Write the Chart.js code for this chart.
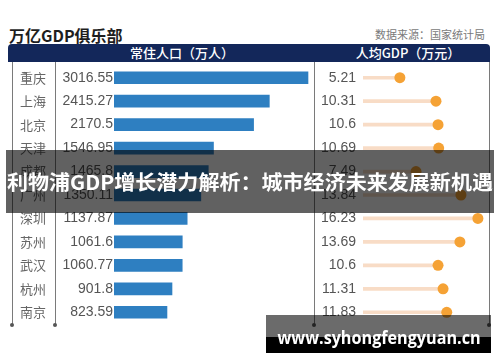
<!DOCTYPE html>
<html>
<head>
<meta charset="utf-8">
<script src="https://cdn.jsdelivr.net/npm/chart.js@4.4.1/dist/chart.umd.min.js"></script>
<style>
  body { margin: 0; width: 500px; height: 362px; background: #fff; position: relative; overflow: hidden;
         font-family: "Noto Sans CJK SC", "Noto Sans", sans-serif; }
  .abs { position: absolute; }
  .vline { position: absolute; top: 62px; height: 263px; width: 1px; background: #7a7a7a; }
  .dot { position: absolute; top: 323px; width: 4px; height: 4px; border-radius: 2px; background: #555; }
  .fit { display: inline-block; white-space: nowrap; transform-origin: center center; }
</style>
</head>
<body>
<div class="abs" style="left:9px;top:23px;font-size:16px;font-weight:bold;color:#1e1e1e">万亿GDP俱乐部</div>
<div class="abs" style="left:375px;top:26px;font-size:11px;color:#7a7a7a">数据来源：国家统计局</div>

<div class="abs" style="left:8px;top:44px;width:482px;height:18px;background:#13275a;border-radius:4px 4px 0 0"></div>
<div class="abs" style="left:110px;top:44px;width:144px;line-height:18px;text-align:center;font-size:13px;font-weight:500;color:#fff">常住人口（万人）</div>
<div class="abs" style="left:340px;top:44px;width:136px;line-height:18px;text-align:center;font-size:13px;font-weight:500;color:#fff">人均GDP（万元）</div>

<div class="vline" style="left:12px"></div>
<div class="vline" style="left:55px"></div>
<div class="vline" style="left:314px"></div>
<div class="vline" style="left:489px"></div>
<div class="dot" style="left:10px"></div>
<div class="dot" style="left:53px"></div>
<div class="dot" style="left:312px"></div>
<div class="dot" style="left:487px"></div>

<div class="abs" style="left:13px;top:66px"><canvas id="pop" width="301" height="258"></canvas></div>
<div class="abs" style="left:315px;top:66px"><canvas id="gdp" width="174" height="258"></canvas></div>

<div class="abs" style="left:6px;top:150px;width:488px;height:63px;background:rgba(0,0,0,0.62);text-align:center;line-height:63px">
  <span class="fit" id="banner" style="font-size:20px;font-weight:bold;color:#fff">利物浦GDP增长潜力解析：城市经济未来发展新机遇</span>
</div>

<div class="abs" style="left:266px;top:315px;width:225px;height:22px;background:rgba(0,0,0,0.58)"></div>
<div class="abs" style="left:266px;top:337px;width:225px;height:16px;background:#000"></div>
<div class="abs" style="left:266px;top:325px;width:225px;line-height:24px;text-align:center">
  <span class="fit" id="wm" style="font-family:'Open Sans',sans-serif;font-size:18px;font-weight:bold;color:#fff">www.syhongfengyuan.cn</span>
</div>

<script>
const cities = ["重庆", "上海", "北京", "天津", "成都", "广州", "深圳", "苏州", "武汉", "杭州", "南京"];
const population = [3016.55, 2415.27, 2170.5, 1546.95, 1465.8, 1350.11, 1137.87, 1061.6, 1060.77, 901.8, 823.59];
const gdpPerCapita = [5.21, 10.31, 10.6, 10.69, 7.49, 13.84, 16.23, 13.69, 10.6, 11.31, 11.83];

// stretch the overlay texts to the width they take in the picture
function fitWidth(id, w) {
  const el = document.getElementById(id);
  el.style.transform = "scaleX(" + (w / el.offsetWidth) + ")";
}
fitWidth("banner", 486);
fitWidth("wm", 203);

// city names, left column of the first panel
const cityNames = {
  id: "cityNames",
  afterDraw(chart) {
    const ctx = chart.ctx;
    const y = chart.scales.y;
    ctx.save();
    ctx.font = "13px 'Noto Sans CJK SC'";
    ctx.fillStyle = "#666";
    ctx.textAlign = "center";
    ctx.textBaseline = "middle";
    cities.forEach((c, i) => ctx.fillText(c, 20, y.getPixelForTick(i)));
    ctx.restore();
  }
};

// keep the category band exactly the canvas height (no label / point padding)
function fullHeight(s) {
  s.paddingTop = 0;
  s.paddingBottom = 0;
}

new Chart(document.getElementById("pop"), {
  type: "bar",
  data: {
    labels: cities,
    datasets: [{ data: population, backgroundColor: "#2e7fc1", barThickness: 12 }]
  },
  options: {
    indexAxis: "y",
    responsive: false,
    animation: false,
    layout: { padding: 0, autoPadding: false },
    plugins: { legend: { display: false }, tooltip: { enabled: false } },
    scales: {
      x: { display: false, min: 0, max: 3110 },
      y: {
        afterFit(s) { s.width = 101; fullHeight(s); },
        grid: { display: false, drawTicks: false },
        border: { display: false },
        ticks: {
          callback: (v, i) => String(population[i]),
          color: "#555",
          padding: 1,
          font: { size: 14, family: "Liberation Sans" }
        }
      }
    }
  },
  plugins: [cityNames]
});

new Chart(document.getElementById("gdp"), {
  type: "bar",
  data: {
    labels: cities,
    datasets: [
      { type: "line", data: gdpPerCapita, showLine: false, pointRadius: 5.5,
        pointBackgroundColor: "#f5a235", pointBorderWidth: 0, order: 0, clip: false },
      { data: gdpPerCapita, backgroundColor: "#f8dcc6", barThickness: 3, order: 1 }
    ]
  },
  options: {
    indexAxis: "y",
    responsive: false,
    animation: false,
    layout: { padding: 0, autoPadding: false },
    plugins: { legend: { display: false }, tooltip: { enabled: false } },
    scales: {
      x: { display: false, min: 0, max: 17.8 },
      y: {
        afterFit(s) { s.width = 48; fullHeight(s); },
        grid: { display: false, drawTicks: false },
        border: { display: false },
        ticks: {
          callback: (v, i) => String(gdpPerCapita[i]),
          color: "#555",
          padding: 7,
          font: { size: 14, family: "Liberation Sans" }
        }
      }
    }
  }
});
</script>
</body>
</html>
